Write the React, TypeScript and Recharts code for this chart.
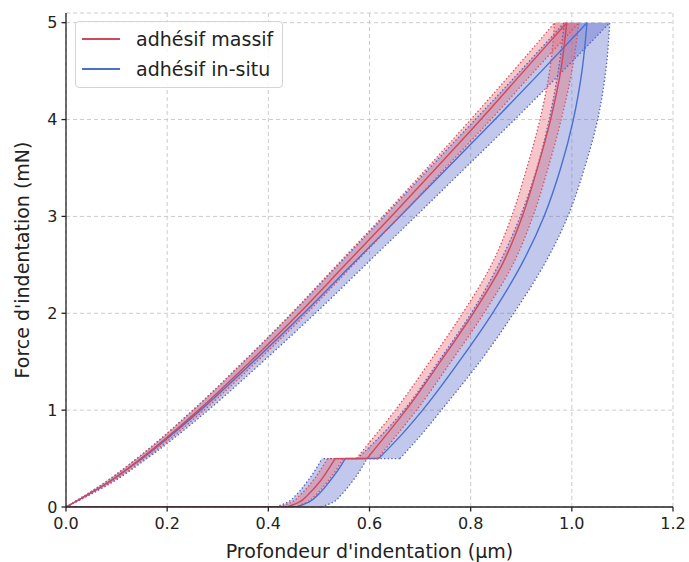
import React from 'react';
import { ComposedChart, Area, Line, XAxis, YAxis, CartesianGrid, Legend, Label } from 'recharts';

const FONT = '"DejaVu Sans", sans-serif';

// force levels (mN) for each branch of the curve
const LOAD_F = [0, 0.25, 0.5, 1, 1.5, 2, 2.5, 3, 3.5, 4, 4.5, 5];
const UNLOAD_F = [0.5, 0.75, 1, 1.5, 2, 2.5, 3, 3.5, 4, 4.5, 5];
const TAIL_F = [0, 0.05, 0.125, 0.25, 0.375, 0.5];

// adhésif massif (depth, µm)
const massifLoad = [0, 0.082, 0.148, 0.262, 0.364, 0.461, 0.552, 0.643, 0.732, 0.82, 0.905, 0.99];
const massifLoadLo = [0, 0.076, 0.14, 0.251, 0.351, 0.446, 0.536, 0.626, 0.714, 0.8, 0.884, 0.966];
const massifLoadHi = [0, 0.088, 0.156, 0.273, 0.377, 0.476, 0.568, 0.66, 0.75, 0.84, 0.926, 1.014];
const massifUnload = [0.595, 0.634, 0.672, 0.74, 0.805, 0.862, 0.902, 0.932, 0.958, 0.978, 0.99];
const massifUnloadLo = [0.574, 0.613, 0.651, 0.719, 0.784, 0.841, 0.881, 0.911, 0.937, 0.956, 0.966];
const massifUnloadHi = [0.616, 0.655, 0.693, 0.761, 0.826, 0.883, 0.923, 0.953, 0.979, 1.0, 1.014];
const massifTail = [0.437, 0.461, 0.478, 0.5, 0.517, 0.532];
const massifTailLo = [0.422, 0.446, 0.463, 0.485, 0.502, 0.517];
const massifTailHi = [0.452, 0.476, 0.494, 0.515, 0.533, 0.548];

// adhésif in-situ
const insituLoad = [0, 0.083, 0.15, 0.266, 0.37, 0.47, 0.565, 0.66, 0.754, 0.848, 0.94, 1.03];
const insituLoadLo = [0, 0.076, 0.14, 0.251, 0.351, 0.447, 0.538, 0.629, 0.719, 0.809, 0.898, 0.985];
const insituLoadHi = [0, 0.09, 0.16, 0.281, 0.389, 0.493, 0.592, 0.691, 0.789, 0.887, 0.982, 1.075];
const insituUnload = [0.618, 0.664, 0.705, 0.777, 0.843, 0.9, 0.945, 0.978, 1.003, 1.02, 1.03];
const insituUnloadLo = [0.576, 0.625, 0.668, 0.736, 0.801, 0.855, 0.898, 0.931, 0.955, 0.973, 0.985];
const insituUnloadHi = [0.66, 0.703, 0.742, 0.818, 0.885, 0.945, 0.992, 1.025, 1.051, 1.067, 1.075];
const insituTail = [0.456, 0.48, 0.498, 0.519, 0.537, 0.552];
const insituTailLo = [0.415, 0.438, 0.455, 0.475, 0.492, 0.506];
const insituTailHi = [0.505, 0.528, 0.544, 0.564, 0.581, 0.595];

const X_TICKS = [0, 0.2, 0.4, 0.6, 0.8, 1.0, 1.2];
const Y_TICKS = [0, 1, 2, 3, 4, 5];

const rows = (fs: number[], xs: number[]) => fs.map((f, i) => ({ f, x: xs[i] }));
const bandRows = (fs: number[], lo: number[], hi: number[]) =>
  fs.map((f, i) => ({ f, band: [lo[i], hi[i]] }));

// drawn in this order: in-situ underneath, massif on top
const SERIES = [
  {
    id: 'insitu',
    name: 'adhésif in-situ',
    line: '#4a6fd0',
    dots: '#5262c4',
    fill: '#5f6dcc',
    fillOpacity: 0.38,
    load: [insituLoad, insituLoadLo, insituLoadHi],
    unload: [insituUnload, insituUnloadLo, insituUnloadHi],
    tail: [insituTail, insituTailLo, insituTailHi],
  },
  {
    id: 'massif',
    name: 'adhésif massif',
    line: '#d2485a',
    dots: '#d84f5f',
    fill: '#e8707a',
    fillOpacity: 0.4,
    load: [massifLoad, massifLoadLo, massifLoadHi],
    unload: [massifUnload, massifUnloadLo, massifUnloadHi],
    tail: [massifTail, massifTailLo, massifTailHi],
  },
];

const renderLegend = () => (
  <div
    style={{
      border: '1px solid #d4d4d4',
      borderRadius: 4,
      background: 'rgba(255,255,255,0.85)',
      padding: '2px 9px 3px 6px',
      fontFamily: FONT,
      fontSize: 19,
      color: '#222',
    }}
  >
    {[SERIES[1], SERIES[0]].map((s) => (
      <div key={s.id} style={{ display: 'flex', alignItems: 'center', height: 30 }}>
        <span style={{ display: 'inline-block', width: 38, height: 1.5, background: s.line, marginRight: 16 }} />
        <span>{s.name}</span>
      </div>
    ))}
  </div>
);

const renderSeries = (s: (typeof SERIES)[number]) => {
  const out: React.ReactNode[] = [];
  const common = { isAnimationActive: false, dot: false, activeDot: false, legendType: 'none' as const };
  out.push(
    <Area key={s.id + 'aL'} data={bandRows(LOAD_F, s.load[1], s.load[2])} dataKey="band" type="monotone"
      stroke="none" fill={s.fill} fillOpacity={s.fillOpacity} isAnimationActive={false} legendType="none" />,
    <Area key={s.id + 'aU'} data={bandRows(UNLOAD_F, s.unload[1], s.unload[2])} dataKey="band" type="monotone"
      stroke="none" fill={s.fill} fillOpacity={s.fillOpacity} isAnimationActive={false} legendType="none" />,
    <Area key={s.id + 'aT'} data={bandRows(TAIL_F, s.tail[1], s.tail[2])} dataKey="band" type="monotone"
      stroke="none" fill={s.fill} fillOpacity={s.fillOpacity} isAnimationActive={false} legendType="none" />
  );
  [1, 2, 0].forEach((k) => {
    const mean = k === 0;
    const style = mean
      ? { stroke: s.line, strokeWidth: 1.4 }
      : { stroke: s.dots, strokeWidth: 1.3, strokeDasharray: '1.4 2.2' };
    const hold = [
      { f: 0.5, x: s.unload[k][0] },
      { f: 0.5, x: s.tail[k][s.tail[k].length - 1] },
    ];
    out.push(
      <Line key={s.id + 'l' + k} data={rows(LOAD_F, s.load[k])} dataKey="x" type="monotone" {...style} {...common} />,
      <Line key={s.id + 'u' + k} data={rows(UNLOAD_F, s.unload[k])} dataKey="x" type="monotone" {...style} {...common} />,
      <Line key={s.id + 't' + k} data={rows(TAIL_F, s.tail[k])} dataKey="x" type="monotone" {...style} {...common} />,
      <Line key={s.id + 'h' + k} data={hold} dataKey="x" type="linear" {...style} {...common} />
    );
    if (mean) {
      const zero = [
        { f: 0, x: s.tail[0][0] },
        { f: 0, x: s.load[0][0] },
      ];
      out.push(<Line key={s.id + 'z'} data={zero} dataKey="x" type="linear" {...style} {...common} />);
    }
  });
  return out;
};

const YLabel = (props: any) => {
  const { viewBox } = props;
  const x = viewBox.x + 22;
  const y = viewBox.y + viewBox.height / 2;
  return (
    <text x={x} y={y} transform={`rotate(-90 ${x} ${y})`} textAnchor="middle" dominantBaseline="central"
      fontFamily={FONT} fontSize={19} fill="#222">
      Force d'indentation (mN)
    </text>
  );
};

export default function App() {
  const axisStroke = '#222';
  const tickStyle = { fontSize: 16, fill: '#222', fontFamily: FONT };
  return (
    <div style={{ position: 'absolute', left: 0, top: 0, fontFamily: FONT }}>
      <ComposedChart width={689} height={562} layout="vertical" margin={{ top: 13, right: 16, bottom: 0, left: 0 }}>
        <CartesianGrid stroke="#cccccc" strokeDasharray="4 3" strokeWidth={1} />
        <XAxis type="number" domain={[0, 1.2]} ticks={X_TICKS} allowDataOverflow height={55}
          tickFormatter={(v: number) => v.toFixed(1)} tick={tickStyle}
          stroke={axisStroke} strokeWidth={1.3} tickSize={4.5} tickMargin={6}>
          <Label value="Profondeur d'indentation (µm)" position="insideBottom" offset={4}
            style={{ fontSize: 19, fill: '#222', fontFamily: FONT }} />
        </XAxis>
        <XAxis xAxisId="top" orientation="top" type="number" domain={[0, 1.2]} height={0}
          tick={false} tickLine={false} stroke={axisStroke} strokeWidth={1.3} />
        <YAxis dataKey="f" type="number" domain={[0, 5.1]} ticks={Y_TICKS} reversed allowDataOverflow width={66}
          tick={tickStyle} stroke={axisStroke} strokeWidth={1.3} tickSize={4.5} tickMargin={4}
          label={<YLabel />} />
        <YAxis yAxisId="right" orientation="right" type="number" domain={[0, 5.1]} width={0}
          tick={false} tickLine={false} stroke={axisStroke} strokeWidth={1.3} />
        {SERIES.map((s) => renderSeries(s))}
        <Legend layout="vertical" align="center" verticalAlign="middle" content={renderLegend}
          wrapperStyle={{ left: 75, top: 21, width: 'auto' }} />
      </ComposedChart>
    </div>
  );
}
